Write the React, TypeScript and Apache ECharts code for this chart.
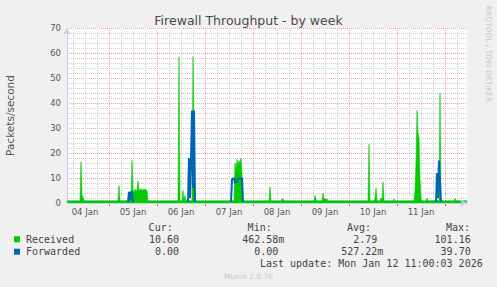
import React, { useEffect, useRef } from 'react';
import * as echarts from 'echarts';

// Time is expressed in hours since 04 Jan 00:00 (graph spans 04 Jan 03:00 .. 12 Jan 11:00)
const timeStart = 3;
const timeEnd = 203;

const dayLabels = ['04 Jan', '05 Jan', '06 Jan', '07 Jan', '08 Jan', '09 Jan', '10 Jan', '11 Jan'];

const yMin = 0;
const yMax = 70;
const yInterval = 10;

// Received packets/second: [hour, value] (30-minute samples)
const receivedPoints: [number, number][] = [
  [3, 0.9],
  [9.5, 0.9], [10, 16.5], [10.5, 3], [11, 2.5], [11.5, 0.9],
  [28.5, 0.9], [29, 7], [29.5, 0.9],
  [35, 1], [35.5, 17], [36, 5], [36.5, 4.5], [37, 5.5], [37.5, 4.8], [38, 5], [38.5, 8.8], [39, 5], [40, 5.5], [41, 5.2], [42, 5.5], [43, 5], [43.5, 0.9],
  [58.5, 0.9], [59, 58.5], [59.5, 0.9],
  [60.5, 0.9], [61, 5], [61.5, 0.9], [62, 3], [62.5, 0.9],
  [65.5, 0.9], [66, 58.5], [66.5, 30], [67, 0.9],
  [86.5, 0.9], [87, 16], [87.5, 13], [88, 17.5], [88.5, 15], [89, 17], [89.5, 16], [90, 18], [90.5, 12], [91, 0.9],
  [104, 0.9], [104.5, 6.5], [105, 0.9],
  [110, 0.9], [110.5, 1.6], [111, 1.6], [111.5, 0.9],
  [126.5, 0.9], [127, 3], [127.5, 1.5], [128, 0.9],
  [130.5, 0.9], [131, 3.9], [131.5, 1.6], [133, 1.6], [133.5, 0.9],
  [153.5, 0.9], [154, 23.5], [154.5, 0.9],
  [156.5, 0.9], [157, 1.8], [157.5, 6], [158, 0.9],
  [159.5, 0.9], [160, 2], [160.5, 1.2], [161, 8.5], [161.5, 0.9],
  [166, 0.9], [166.5, 1.6], [167, 0.9],
  [176.5, 0.9], [177, 5], [177.5, 16], [178, 37], [178.5, 28], [179, 26], [179.5, 10], [180, 1.8], [180.5, 0.9],
  [182.5, 0.9], [183, 2], [183.5, 0.9],
  [189, 1], [189.5, 44], [190, 2], [190.5, 0.9],
  [196.5, 0.9], [197, 1.8], [197.5, 0.9],
  [203, 0.9],
];

// Forwarded packets/second: [hour, value] (30-minute samples)
const forwardedPoints: [number, number][] = [
  [3, 0], [33.5, 0], [34, 4.5], [34.5, 1], [35, 4.5], [35.5, 4.5], [36, 0],
  [63.5, 0], [64, 18], [64.5, 2], [65, 18], [65.5, 37], [66, 6], [66.5, 37], [67, 0],
  [85, 0], [85.5, 9.5], [86.5, 10], [87, 8], [88, 8.5], [88.5, 10], [89.5, 9.5], [90.5, 10], [91, 0],
  [187.5, 0], [188, 12], [188.5, 2], [189, 17], [189.5, 8], [190, 0],
  [203, 0],
];

const legendHeaders = ['Cur:', 'Min:', 'Avg:', 'Max:'];
const seriesNames = ['Received', 'Forwarded'];
const receivedStats = ['10.60', '462.58m', '2.79', '101.16'];
const forwardedStats = ['0.00', '0.00', '527.22m', '39.70'];
const lastUpdate = 'Last update: Mon Jan 12 11:00:03 2026';

const GREEN = '#00cc00';
const BLUE = '#0066b3';
const AXIS_COLOR = '#c6cdf2';
const MAJOR = '#f0a0a0';
const MINOR = '#cfcfcf';
const TEXT = '#555555';

export default function App() {
  const ref = useRef<HTMLDivElement>(null);
  useEffect(() => {
    if (!ref.current) return;
    const chart = echarts.init(ref.current, null, { renderer: 'svg' });

    const gTop = 28;
    const gBottom = 84;
    const pxPerHour = 2;
    const pxPerUnit = 2.5;
    const plotLeft = 67;
    const plotRight = 467;
    const W = 497;
    const px = (h: number) => plotLeft + (h - timeStart) * pxPerHour;
    // forwarded line is clipped 2px above the x axis so its zero level stays hidden
    const fwdLift = 2;
    const fwdMin = yMin + fwdLift / pxPerUnit;

    const mono = '10px "DejaVu Sans Mono"';
    const headerRight = [172.7, 271.7, 371, 470];
    const valueRight = [179, 284.3, 383.3, 476.7];
    const rowY = [239.3, 251.7];
    const headerY = 227.7;

    const graphics: any[] = [];
    legendHeaders.forEach((t, i) => {
      graphics.push({
        type: 'text', x: headerRight[i], y: headerY,
        style: { text: t, font: mono, fill: '#444', align: 'right', verticalAlign: 'middle', textAlign: 'right', textVerticalAlign: 'middle' },
      });
    });
    [receivedStats, forwardedStats].forEach((stats, r) => {
      graphics.push({
        type: 'rect', shape: { x: 14, y: rowY[r] - 3, width: 6, height: 6 },
        style: { fill: r === 0 ? GREEN : BLUE },
      });
      graphics.push({
        type: 'text', x: 26, y: rowY[r],
        style: { text: seriesNames[r], font: mono, fill: '#444', align: 'left', verticalAlign: 'middle', textAlign: 'left', textVerticalAlign: 'middle' },
      });
      stats.forEach((s, i) => {
        const hasUnit = /[a-zA-Z]$/.test(s);
        const right = i === 0 ? valueRight[0] : valueRight[i] - (hasUnit ? 0 : 6);
        graphics.push({
          type: 'text', x: right, y: rowY[r],
          style: { text: s, font: mono, fill: '#444', align: 'right', verticalAlign: 'middle', textAlign: 'right', textVerticalAlign: 'middle' },
        });
      });
    });
    graphics.push({
      type: 'text', x: 482.7, y: 263.3,
      style: { text: lastUpdate, font: mono, fill: '#444', align: 'right', verticalAlign: 'middle', textAlign: 'right', textVerticalAlign: 'middle' },
    });
    graphics.push({
      type: 'text', x: 248.5, y: 276.5,
      style: { text: 'Munin 2.0.76', font: '7.5px "DejaVu Sans"', fill: '#c4c4c4', align: 'center', verticalAlign: 'middle', textAlign: 'center', textVerticalAlign: 'middle' },
    });
    graphics.push({
      type: 'text', x: 488, y: 54, rotation: -Math.PI / 2,
      style: { text: 'RRDTOOL / TOBI OETIKER', font: '7.5px "DejaVu Sans"', fill: '#c8c8c8', align: 'center', verticalAlign: 'middle', textAlign: 'center', textVerticalAlign: 'middle' },
    });

    const hiddenY = (gridIndex: number, min = yMin) => ({ type: 'value', gridIndex, min, max: yMax, show: false });
    const gridBase = { top: gTop, bottom: gBottom, containLabel: false, outerBoundsMode: 'none' };

    const option: any = {
      animation: false,
      backgroundColor: '#f0f0f0',
      title: {
        text: 'Firewall Throughput - by week',
        left: 'center',
        top: 9,
        textStyle: { fontFamily: 'DejaVu Sans', fontSize: 12.5, fontWeight: 'normal', color: '#4a4a4a' },
      },
      grid: [
        { ...gridBase, left: plotLeft, right: W - plotRight, show: true, backgroundColor: '#ffffff', borderWidth: 0 },
        // minor vertical grid (every 6 h)
        { ...gridBase, left: px(6), right: W - px(198) },
        // major vertical grid (midnights)
        { ...gridBase, left: px(24), right: W - px(192) },
        // day labels (noons)
        { ...gridBase, left: px(12), right: W - px(180) },
        // forwarded series (same scale, clipped just above axis)
        { ...gridBase, left: plotLeft, right: W - plotRight, bottom: gBottom + fwdLift },
      ],
      xAxis: [
        {
          type: 'value', gridIndex: 0, min: timeStart, max: timeEnd, z: 5,
          axisLine: { show: true, lineStyle: { color: AXIS_COLOR, width: 1 }, symbol: ['none', 'arrow'], symbolSize: [6, 7] },
          axisTick: { show: false }, axisLabel: { show: false }, splitLine: { show: false },
        },
        {
          type: 'value', gridIndex: 1, min: 6, max: 198, interval: 6,
          axisLine: { show: false }, axisTick: { show: false }, axisLabel: { show: false },
          splitLine: { show: true, lineStyle: { color: MINOR, type: [1, 1], width: 1 } },
        },
        {
          type: 'value', gridIndex: 2, min: 24, max: 192, interval: 24,
          axisLine: { show: false },
          axisTick: { show: true, length: 3, lineStyle: { color: '#e05050' } },
          axisLabel: { show: false },
          splitLine: { show: true, lineStyle: { color: MAJOR, type: [1, 1], width: 1 } },
        },
        {
          type: 'value', gridIndex: 3, min: 12, max: 180, interval: 24,
          axisLine: { show: false }, axisTick: { show: false }, splitLine: { show: false },
          axisLabel: {
            show: true, margin: 4, color: TEXT, fontFamily: 'DejaVu Sans', fontSize: 8.5,
            formatter: (v: number) => dayLabels[Math.round((v - 12) / 24)] ?? '',
          },
        },
        { type: 'value', gridIndex: 4, min: timeStart, max: timeEnd, show: false },
      ],
      yAxis: [
        {
          type: 'value', gridIndex: 0, min: yMin, max: yMax, interval: yInterval,
          name: 'Packets/second', nameLocation: 'middle', nameGap: 52,
          nameTextStyle: { color: TEXT, fontFamily: 'DejaVu Sans', fontSize: 10.5 },
          axisLine: { show: true, lineStyle: { color: AXIS_COLOR, width: 1 }, symbol: ['none', 'arrow'], symbolSize: [6, 7] },
          axisTick: { show: false },
          axisLabel: { color: TEXT, fontFamily: 'DejaVu Sans', fontSize: 8.5, margin: 6 },
          splitLine: { show: true, lineStyle: { color: MAJOR, type: [1, 1], width: 1 } },
          minorTick: { show: false, splitNumber: 5 },
          minorSplitLine: { show: true, lineStyle: { color: MINOR, type: [1, 1], width: 1 } },
        },
        hiddenY(1), hiddenY(2), hiddenY(3), hiddenY(4, fwdMin),
      ],
      series: [
        {
          name: 'Received', type: 'line', xAxisIndex: 0, yAxisIndex: 0,
          data: receivedPoints, showSymbol: false, symbol: 'none',
          lineStyle: { width: 0.6, color: GREEN }, itemStyle: { color: GREEN },
          areaStyle: { color: GREEN, opacity: 1 }, z: 2,
        },
        {
          name: 'Forwarded', type: 'line', xAxisIndex: 4, yAxisIndex: 4, clip: true,
          data: forwardedPoints, showSymbol: false, symbol: 'none',
          lineStyle: { width: 2, color: BLUE }, itemStyle: { color: BLUE }, z: 3,
        },
      ],
      graphic: graphics,
    };
    chart.setOption(option);
    return () => chart.dispose();
  }, []);
  return (
    <div
      ref={ref}
      style={{ position: 'fixed', left: 0, top: 0, width: 497, height: 287, background: '#f0f0f0' }}
    />
  );
}
